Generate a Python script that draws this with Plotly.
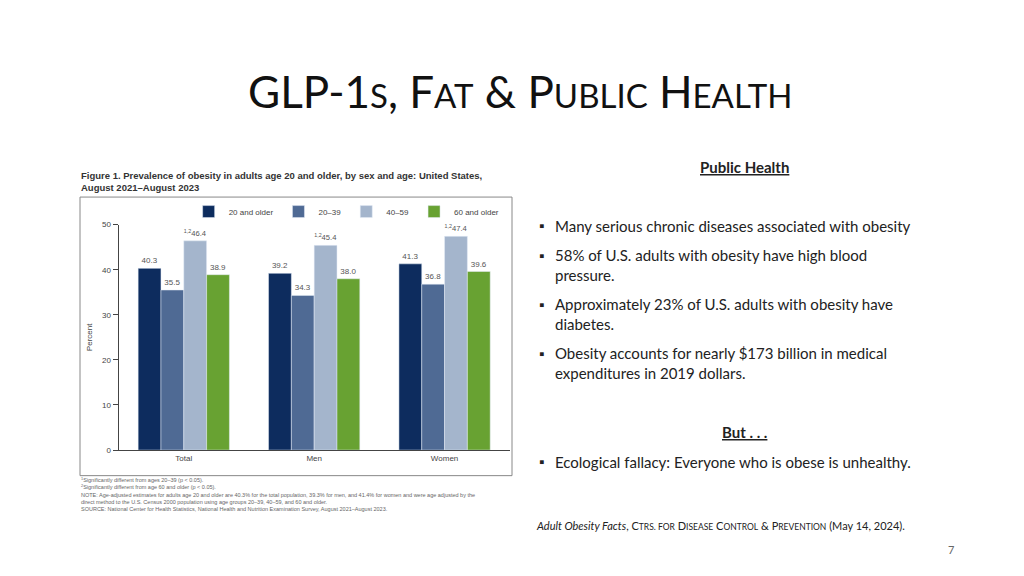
import plotly.graph_objects as go

groups = ["Total", "Men", "Women"]
series = ["20 and older", "20\u201339", "40\u201359", "60 and older"]
values = [
    [40.3, 39.2, 41.3],
    [35.5, 34.3, 36.8],
    [46.4, 45.4, 47.4],
    [38.9, 38.0, 39.6],
]
marks = ["", "", "<sup>1,2</sup>", ""]
colors = ["#0d2c5e", "#4f6a94", "#a4b5cc", "#68a232"]

fig = go.Figure()
for name, vals, mk, col in zip(series, values, marks, colors):
    fig.add_trace(go.Bar(
        x=groups, y=vals, name=name, marker_color=col,
        text=[mk + f"{v:.1f}" for v in vals], textposition="outside",
        textfont=dict(size=8, color="#555"), cliponaxis=False,
    ))

F = "Lato, Liberation Sans, sans-serif"
fig.update_layout(
    width=1024, height=576, paper_bgcolor="white", plot_bgcolor="white",
    margin=dict(l=0, r=0, t=0, b=0), showlegend=True,
    barmode="group", bargap=0.3, bargroupgap=0,
    font=dict(family="Liberation Sans Narrow, Arial, sans-serif", size=8, color="#444"),
    legend=dict(orientation="h", x=0.485, xanchor="right", y=0.648, yanchor="middle",
                font=dict(size=8), itemwidth=30, bgcolor="rgba(0,0,0,0)"),
    xaxis=dict(domain=[0.108, 0.49], showline=True, linecolor="#444", ticks="",
               tickfont=dict(size=8)),
    yaxis=dict(domain=[0.2274, 0.625], range=[0, 50], dtick=10, showgrid=False,
               showline=True, linecolor="#444", ticks="outside", ticklen=5,
               tickcolor="#444", title=dict(text="Percent", font=dict(size=8), standoff=8),
               zeroline=False),
)

# chart frame
fig.add_shape(type="rect", xref="paper", yref="paper", x0=72/1024, x1=504/1024,
              y0=1-471/576, y1=1-188/576, line=dict(color="#888", width=1))

def ann(x, y, text, size, color="#222", align="left", anchor="left", family=F):
    fig.add_annotation(xref="paper", yref="paper", x=x/1024, y=1-y/576, text=text,
                       showarrow=False, xanchor=anchor, yanchor="middle", align=align,
                       font=dict(size=size, color=color, family=family))

big, sm = 44, 33
title = (f"GLP-1<span style='font-size:{sm}px'>S</span>, F<span style='font-size:{sm}px'>AT</span> &amp; "
         f"P<span style='font-size:{sm}px'>UBLIC</span> H<span style='font-size:{sm}px'>EALTH</span>")
ann(512, 80, title, big, color="#111", anchor="center")

cond = "Liberation Sans Narrow, Arial Narrow, sans-serif"
ann(71, 172, "<b>Figure 1. Prevalence of obesity in adults age 20 and older, by sex and age: United States,<br>August 2021\u2013August 2023</b>",
    9.5, color="#333", family=cond)
ann(71, 490, "<sup>1</sup>Significantly different from ages 20\u201339 (p &lt; 0.05).<br>"
    "<sup>2</sup>Significantly different from age 60 and older (p &lt; 0.05).<br>"
    "NOTE: Age-adjusted estimates for adults age 20 and older are 40.3% for the total population, 39.3% for men, and 41.4% for women and were age adjusted by the<br>"
    "direct method to the U.S. Census 2000 population using age groups 20\u201339, 40\u201359, and 60 and older.<br>"
    "SOURCE: National Center for Health Statistics, National Health and Nutrition Examination Survey, August 2021\u2013August 2023.",
    5.5, color="#666", family=cond)

ann(736, 157, "<b><u>Public Health</u></b>", 15, anchor="center")
bullets = [
    (225, "Many serious chronic diseases associated with obesity"),
    (265, "58% of U.S. adults with obesity have high blood<br>pressure."),
    (315, "Approximately 23% of U.S. adults with obesity have<br>diabetes."),
    (365, "Obesity accounts for nearly $173 billion in medical<br>expenditures in 2019 dollars."),
    (465, "Ecological fallacy: Everyone who is obese is unhealthy."),
]
for y, t in bullets:
    y = y - 8
    n = t.count("<br>")
    ann(529, y - 10 * n if n else y, "\u25aa", 14)
    ann(545, y, t, 15)
ann(736, 427, "<b><u>But . . .</u></b>", 15, anchor="center")
ann(526, 522, "<i>Adult Obesity Facts</i>, C<span style='font-size:8.5px'>TRS. FOR</span> D<span style='font-size:8.5px'>ISEASE</span> "
    "C<span style='font-size:8.5px'>ONTROL</span> &amp; P<span style='font-size:8.5px'>REVENTION</span> (May 14, 2024).", 11)
ann(943, 546, "7", 11, color="#666", anchor="center")

fig.write_html("out.html")
